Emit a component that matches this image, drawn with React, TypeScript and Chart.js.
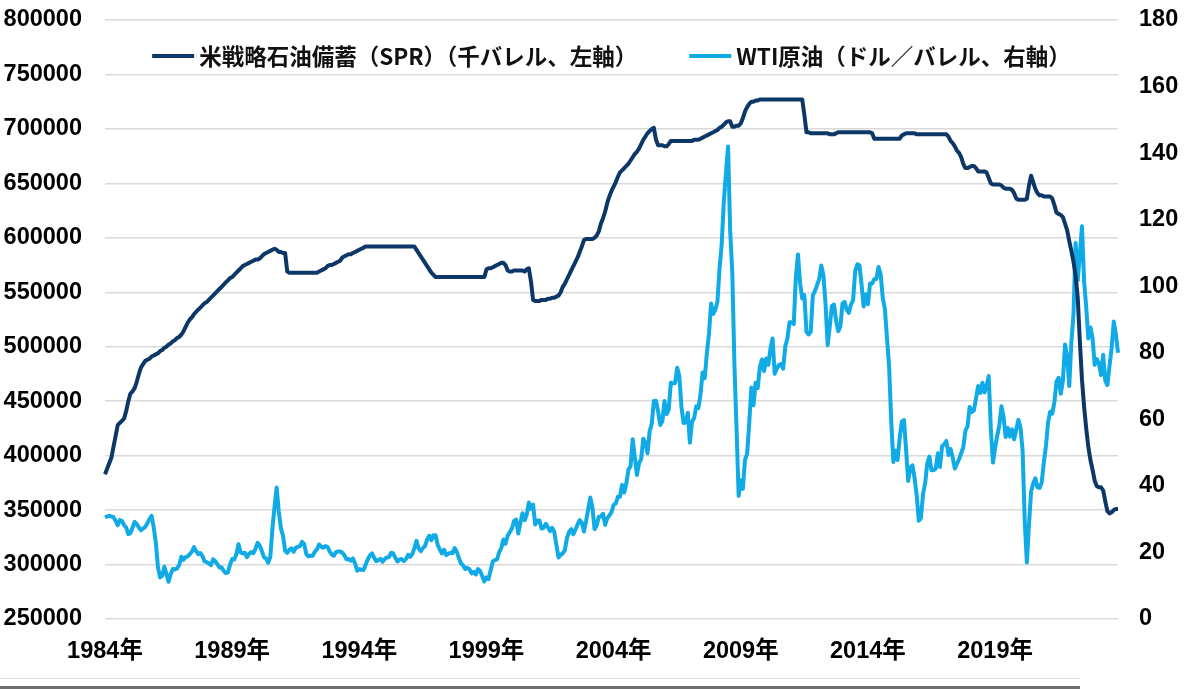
import { useEffect, useRef } from "react";
import { Chart, registerables } from "chart.js";

Chart.register(...registerables);

// monthly data, Jan 1984 .. Nov 2023
const startYear = 1984;
const tickYears = [1984, 1989, 1994, 1999, 2004, 2009, 2014, 2019];

const sprLabel = "米戦略石油備蓄（SPR）（千バレル、左軸）";
const wtiLabel = "WTI原油（ドル／バレル、右軸）";

// SPR inventory, thousand barrels
const sprValues = [
  383000, 388000, 393000, 398000, 408000, 418000, 428000, 430000, 432000, 434000, 441000, 450000, // 1984
  457000, 459000, 462000, 468000, 475000, 481000, 484000, 487000, 488000, 489000, 491000, 492000, // 1985
  493000, 494000, 496000, 497000, 499000, 500000, 502000, 503000, 505000, 506000, 508000, 509000, // 1986
  511000, 514000, 518000, 522000, 525000, 527000, 530000, 532000, 534000, 536000, 538000, 540000, // 1987
  541000, 543000, 545000, 547000, 549000, 551000, 553000, 555000, 557000, 559000, 561000, 563000, // 1988
  564000, 566000, 568000, 570000, 572000, 574000, 575000, 576000, 577000, 578000, 579000, 580000, // 1989
  580000, 581000, 583000, 585000, 586000, 587000, 588000, 589000, 590000, 589000, 587000, 587000, // 1990
  586000, 586000, 569000, 568000, 568000, 568000, 568000, 568000, 568000, 568000, 568000, 568000, // 1991
  568000, 568000, 568000, 568000, 568000, 569000, 570000, 571000, 572000, 574000, 575000, 575000, // 1992
  576000, 577000, 578000, 579000, 582000, 583000, 584000, 585000, 585000, 586000, 587000, 588000, // 1993
  589000, 590000, 591000, 592000, 592000, 592000, 592000, 592000, 592000, 592000, 592000, 592000, // 1994
  592000, 592000, 592000, 592000, 592000, 592000, 592000, 592000, 592000, 592000, 592000, 592000, // 1995
  592000, 592000, 592000, 589000, 586000, 583000, 580000, 577000, 574000, 571000, 568000, 566000, // 1996
  564000, 564000, 564000, 564000, 564000, 564000, 564000, 564000, 564000, 564000, 564000, 564000, // 1997
  564000, 564000, 564000, 564000, 564000, 564000, 564000, 564000, 564000, 564000, 564000, 564000, // 1998
  571000, 572000, 572000, 573000, 574000, 575000, 576000, 577000, 577000, 575000, 570000, 569000, // 1999
  569000, 570000, 570000, 570000, 570000, 570000, 569000, 571000, 572000, 560000, 543000, 542000, // 2000
  542000, 542000, 543000, 543000, 543000, 544000, 544000, 545000, 545000, 546000, 547000, 550000, // 2001
  555000, 558000, 562000, 566000, 570000, 574000, 578000, 582000, 587000, 592000, 598000, 599000, // 2002
  599000, 599000, 599000, 600000, 602000, 606000, 613000, 618000, 624000, 632000, 638000, 643000, // 2003
  647000, 651000, 656000, 660000, 662000, 664000, 666000, 668000, 671000, 674000, 677000, 679000, // 2004
  682000, 686000, 690000, 693000, 696000, 698000, 700000, 701000, 690000, 685000, 685000, 685000, // 2005
  684000, 684000, 686000, 689000, 689000, 689000, 689000, 689000, 689000, 689000, 689000, 689000, // 2006
  689000, 689000, 690000, 690000, 690000, 691000, 692000, 693000, 694000, 695000, 696000, 697000, // 2007
  698000, 699000, 701000, 702000, 704000, 706000, 707000, 707000, 702000, 702000, 703000, 703000, // 2008
  705000, 710000, 716000, 720000, 723000, 725000, 725000, 726000, 726000, 727000, 727000, 727000, // 2009
  727000, 727000, 727000, 727000, 727000, 727000, 727000, 727000, 727000, 727000, 727000, 727000, // 2010
  727000, 727000, 727000, 727000, 727000, 727000, 713000, 697000, 697000, 696000, 696000, 696000, // 2011
  696000, 696000, 696000, 696000, 696000, 696000, 695000, 695000, 695000, 696000, 697000, 697000, // 2012
  697000, 697000, 697000, 697000, 697000, 697000, 697000, 697000, 697000, 697000, 697000, 697000, // 2013
  697000, 697000, 696000, 691000, 691000, 691000, 691000, 691000, 691000, 691000, 691000, 691000, // 2014
  691000, 691000, 691000, 691000, 694000, 695000, 696000, 696000, 696000, 696000, 696000, 695000, // 2015
  695000, 695000, 695000, 695000, 695000, 695000, 695000, 695000, 695000, 695000, 695000, 695000, // 2016
  695000, 695000, 693000, 689000, 687000, 684000, 680000, 678000, 674000, 668000, 664000, 664000, // 2017
  665000, 666000, 666000, 664000, 661000, 661000, 661000, 661000, 660000, 655000, 650000, 649000, // 2018
  649000, 649000, 649000, 648000, 646000, 645000, 645000, 645000, 644000, 641000, 636000, 635000, // 2019
  635000, 635000, 635000, 636000, 648000, 657000, 651000, 645000, 641000, 639000, 639000, 638000, // 2020
  638000, 638000, 638000, 636000, 630000, 623000, 622000, 621000, 619000, 613000, 607000, 597000, // 2021
  588000, 578000, 565000, 545000, 505000, 470000, 445000, 425000, 408000, 396000, 387000, 377000, // 2022
  372000, 371000, 371000, 368000, 358000, 349000, 347000, 348000, 350000, 351000, 351000, // 2023
];

// WTI crude, USD per barrel
const wtiValues = [
  30.5, 30.8, 31.0, 30.8, 30.6, 29.5, 28.2, 29.7, 29.5, 28.2, 27.5, 25.5, // 1984
  25.8, 27.5, 29.2, 28.5, 27.5, 26.7, 27.2, 27.7, 28.8, 30.0, 31.0, 27.5, // 1985
  22.9, 15.5, 12.5, 13.0, 15.7, 13.5, 11.2, 13.5, 15.0, 14.9, 15.2, 16.2, // 1986
  18.7, 17.8, 18.6, 18.8, 19.5, 20.2, 21.6, 20.4, 19.5, 19.8, 18.9, 17.3, // 1987
  17.1, 16.7, 16.2, 17.9, 17.4, 16.5, 15.5, 15.5, 14.5, 13.8, 14.0, 16.3, // 1988
  18.0, 17.9, 19.5, 22.5, 20.0, 19.7, 19.9, 18.6, 19.6, 20.1, 19.8, 21.1, // 1989
  22.9, 22.1, 20.4, 18.6, 18.2, 16.9, 18.6, 27.2, 33.7, 39.5, 32.3, 27.3, // 1990
  25.0, 20.5, 19.9, 20.8, 21.2, 20.2, 21.4, 21.7, 21.9, 23.2, 22.5, 19.5, // 1991
  18.8, 19.0, 19.0, 20.2, 20.9, 22.4, 21.8, 21.4, 21.9, 21.7, 20.3, 19.4, // 1992
  19.0, 20.1, 20.3, 20.3, 19.9, 19.1, 17.9, 18.0, 17.5, 18.2, 16.7, 14.5, // 1993
  15.0, 14.8, 14.7, 16.4, 17.9, 19.1, 19.7, 18.4, 17.4, 17.7, 18.1, 17.2, // 1994
  18.0, 18.5, 18.6, 19.9, 19.7, 18.4, 17.3, 17.9, 18.0, 17.4, 18.0, 19.3, // 1995
  18.7, 19.5, 21.3, 23.5, 21.2, 20.4, 21.3, 21.9, 23.9, 25.0, 23.7, 25.2, // 1996
  25.2, 22.2, 20.9, 19.7, 20.8, 19.2, 19.6, 19.9, 19.8, 21.3, 20.2, 18.3, // 1997
  16.7, 16.1, 15.0, 15.4, 14.9, 13.7, 14.2, 13.4, 15.0, 14.4, 12.9, 11.3, // 1998
  12.5, 12.0, 14.7, 17.3, 17.7, 17.9, 20.1, 21.3, 23.9, 22.6, 25.0, 26.1, // 1999
  27.2, 29.4, 29.9, 25.7, 28.8, 31.8, 29.7, 31.3, 35.0, 33.1, 34.4, 28.4, // 2000
  29.6, 29.6, 27.2, 27.4, 28.6, 27.6, 26.4, 27.4, 26.2, 22.2, 18.5, 19.3, // 2001
  19.7, 20.7, 24.4, 26.2, 27.0, 25.5, 26.9, 28.4, 29.7, 28.9, 26.3, 29.4, // 2002
  32.9, 36.5, 33.6, 27.0, 28.1, 30.7, 30.8, 31.6, 28.3, 30.3, 31.1, 32.1, // 2003
  34.3, 34.7, 36.7, 36.7, 40.3, 38.0, 40.7, 44.9, 45.9, 54.0, 48.5, 43.3, // 2004
  46.8, 48.1, 54.2, 52.9, 49.8, 56.4, 58.7, 65.5, 65.6, 62.4, 58.3, 59.4, // 2005
  65.5, 61.6, 62.9, 71.0, 70.8, 70.9, 75.5, 73.0, 63.8, 58.9, 59.1, 62.0, // 2006
  53.0, 59.3, 60.4, 63.9, 63.4, 67.5, 74.1, 72.4, 79.9, 85.8, 94.8, 91.7, // 2007
  93.0, 95.4, 105.5, 112.6, 125.4, 133.9, 142.0, 116.7, 104.1, 76.6, 57.3, 37.0, // 2008
  41.7, 39.1, 47.9, 49.6, 59.0, 69.6, 64.2, 71.0, 69.4, 75.7, 78.0, 74.5, // 2009
  78.3, 76.4, 81.2, 84.3, 73.7, 75.3, 76.3, 76.6, 75.2, 81.9, 84.3, 89.2, // 2010
  89.2, 88.6, 102.9, 109.5, 100.9, 96.3, 97.3, 86.3, 85.5, 86.3, 97.2, 98.6, // 2011
  100.3, 102.2, 106.2, 103.3, 94.7, 82.3, 87.9, 94.1, 94.5, 89.5, 86.5, 87.9, // 2012
  94.8, 95.3, 92.9, 92.0, 94.5, 95.8, 104.6, 106.6, 106.3, 100.5, 93.9, 97.6, // 2013
  94.6, 100.8, 100.8, 102.1, 102.2, 105.8, 103.6, 96.5, 93.2, 84.4, 75.8, 59.3, // 2014
  47.2, 50.6, 47.8, 54.5, 59.3, 59.8, 50.9, 41.5, 45.5, 46.2, 42.4, 37.2, // 2015
  29.5, 30.3, 37.5, 40.8, 46.7, 48.8, 44.7, 44.7, 45.2, 49.8, 45.7, 52.0, // 2016
  52.5, 53.5, 49.3, 51.1, 48.5, 45.2, 46.6, 48.0, 49.8, 51.6, 56.6, 57.9, // 2017
  63.7, 62.2, 62.7, 66.3, 70.0, 67.9, 71.0, 68.1, 70.2, 73.0, 57.0, 47.0, // 2018
  51.4, 55.0, 58.2, 63.9, 60.8, 54.7, 57.4, 54.8, 57.0, 54.0, 57.0, 59.9, // 2019
  57.5, 50.5, 29.2, 17.0, 28.5, 38.3, 40.7, 42.3, 39.6, 39.4, 41.0, 47.0, // 2020
  52.0, 59.0, 62.3, 61.7, 65.2, 71.4, 72.5, 67.7, 71.6, 82.5, 79.0, 70.0, // 2021
  83.2, 91.6, 113.0, 101.8, 109.6, 118.0, 101.6, 93.7, 84.3, 87.6, 84.4, 76.4, // 2022
  78.1, 76.8, 73.3, 79.4, 71.6, 70.3, 76.1, 81.4, 89.4, 85.6, 80.0, // 2023
];

const monthLabels = sprValues.map((_, i) => {
  const y = startYear + Math.floor(i / 12);
  const m = (i % 12) + 1;
  return `${y}-${String(m).padStart(2, "0")}`;
});

const tickFont = {
  family: '"Liberation Sans", Arial, "Noto Sans CJK JP", sans-serif',
  size: 23.5,
  weight: "bold" as const,
};

// legend drawn inside the plot, just under the top gridline
const inlineLegend = {
  id: "inlineLegend",
  afterDatasetsDraw(chart: Chart) {
    const { ctx, chartArea } = chart;
    const lineLen = 42;
    const textGap = 5;
    const itemGap = 52;
    ctx.save();
    ctx.font = 'bold 22.5px "Noto Sans CJK JP", sans-serif';
    ctx.textBaseline = "middle";
    ctx.textAlign = "left";
    const items = chart.data.datasets.map((ds) => ({
      text: String(ds.label),
      color: String(ds.borderColor),
      width: ctx.measureText(String(ds.label)).width,
    }));
    const total =
      items.reduce((sum, it) => sum + lineLen + textGap + it.width, 0) + itemGap * (items.length - 1);
    let x = (chartArea.left + chartArea.right) / 2 - total / 2;
    const y = chartArea.top + 36;
    for (const it of items) {
      ctx.strokeStyle = it.color;
      ctx.lineWidth = 4;
      ctx.lineCap = "butt";
      ctx.beginPath();
      ctx.moveTo(x, y);
      ctx.lineTo(x + lineLen, y);
      ctx.stroke();
      ctx.fillStyle = "#111";
      ctx.fillText(it.text, x + lineLen + textGap, y);
      x += lineLen + textGap + it.width + itemGap;
    }
    ctx.restore();
  },
};

export default function App() {
  const chartRef = useRef<HTMLCanvasElement>(null);
  const chartInstance = useRef<Chart | null>(null);

  useEffect(() => {
    if (!chartRef.current) return;
    if (chartInstance.current) chartInstance.current.destroy();
    const ctx = chartRef.current.getContext("2d");
    if (!ctx) return;

    chartInstance.current = new Chart(ctx, {
      type: "line",
      data: {
        labels: monthLabels,
        datasets: [
          {
            label: sprLabel,
            data: sprValues,
            yAxisID: "y",
            borderColor: "#0c3767",
            backgroundColor: "#0c3767",
            borderWidth: 4,
            pointRadius: 0,
            tension: 0,
          },
          {
            label: wtiLabel,
            data: wtiValues,
            yAxisID: "y1",
            borderColor: "#10aae6",
            backgroundColor: "#10aae6",
            borderWidth: 4,
            pointRadius: 0,
            tension: 0,
          },
        ],
      },
      plugins: [inlineLegend],
      options: {
        responsive: false,
        animation: false,
        layout: { padding: { left: 0, right: 0, top: 20, bottom: 0 } },
        elements: { line: { borderJoinStyle: "round" } },
        scales: {
          x: {
            type: "category",
            grid: { display: false, drawTicks: false },
            border: { display: false },
            ticks: {
              autoSkip: false,
              maxRotation: 0,
              minRotation: 0,
              padding: 18,
              color: "#000",
              font: tickFont,
              callback: (_v, index) => {
                const [y, m] = monthLabels[index].split("-");
                return m === "01" && tickYears.includes(Number(y)) ? `${y}年` : null;
              },
            },
            afterFit: (s) => {
              s.height = 70;
            },
          },
          y: {
            position: "left",
            min: 250000,
            max: 800000,
            // invisible tick marks give the gap between labels and plot
            grid: { color: "#d9d9d9", lineWidth: 1.5, drawTicks: true, tickLength: 23, tickColor: "rgba(0,0,0,0)" },
            border: { display: false },
            ticks: {
              stepSize: 50000,
              padding: 0,
              color: "#000",
              font: tickFont,
              callback: (v) => String(v),
            },
            afterFit: (s) => {
              s.width = 105;
            },
          },
          y1: {
            position: "right",
            min: 0,
            max: 180,
            grid: {
              display: true,
              drawOnChartArea: false,
              drawTicks: true,
              tickLength: 21,
              color: "rgba(0,0,0,0)",
              tickColor: "rgba(0,0,0,0)",
            },
            border: { display: false },
            ticks: {
              stepSize: 20,
              padding: 0,
              color: "#000",
              font: tickFont,
              callback: (v) => String(v),
            },
            afterFit: (s) => {
              s.width = 82;
            },
          },
        },
        plugins: {
          tooltip: { enabled: false },
          legend: { display: false },
        },
      },
    });

    return () => {
      if (chartInstance.current) {
        chartInstance.current.destroy();
        chartInstance.current = null;
      }
    };
  }, []);

  return (
    <div style={{ position: "fixed", left: 0, top: 0, width: 1200, height: 689, background: "#fff" }}>
      <canvas ref={chartRef} width={1200} height={689} />
      <div style={{ position: "absolute", left: 0, top: 678, width: 1080, height: 1, background: "#dcdcdc" }} />
      <div style={{ position: "absolute", left: 0, top: 686, width: 1080, height: 3, background: "#6e6e6e" }} />
    </div>
  );
}
